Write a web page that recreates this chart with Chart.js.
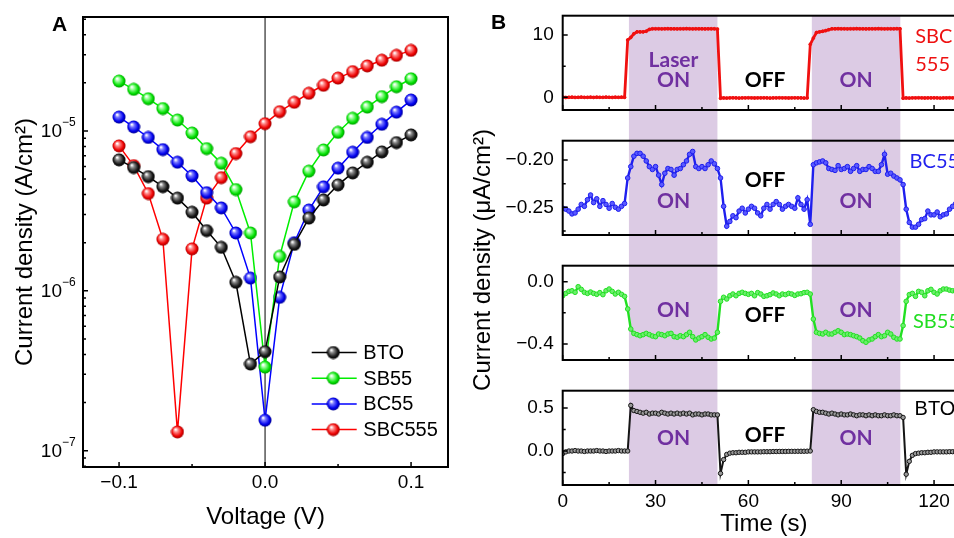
<!DOCTYPE html>
<html>
<head>
<meta charset="utf-8">
<script src="https://cdn.jsdelivr.net/npm/chart.js@4.4.1/dist/chart.umd.min.js"></script>
<style>
  html, body { margin: 0; padding: 0; background: #fff; }
  body { width: 954px; height: 538px; overflow: hidden; position: relative; font-family: 'Liberation Sans', Arial, sans-serif; }
  .box { position: absolute; }
  .tag { position: absolute; font-weight: bold; font-size: 21px; line-height: 20px; }
  #ytB { position: absolute; left: 482px; top: 260px; transform: translate(-50%, -50%) rotate(-90deg);
         white-space: nowrap; font-size: 24px; line-height: 28px; }
</style>
</head>
<body>
<div class="box" style="left:0;top:0;width:475px;height:538px"><canvas id="cA"></canvas></div>
<div class="box" style="left:480px;top:0;width:500px;height:125px"><canvas id="cB1"></canvas></div>
<div class="box" style="left:480px;top:125px;width:500px;height:125px"><canvas id="cB2"></canvas></div>
<div class="box" style="left:480px;top:250px;width:500px;height:125px"><canvas id="cB3"></canvas></div>
<div class="box" style="left:480px;top:375px;width:500px;height:165px"><canvas id="cB4"></canvas></div>
<div class="tag" style="left:52px;top:14px">A</div>
<div class="tag" style="left:491px;top:12px">B</div>
<div id="ytB">Current density (μA/cm²)</div>

<script>
// ---- Panel A: current density vs voltage (log) ----
const voltage = [-0.10,-0.09,-0.08,-0.07,-0.06,-0.05,-0.04,-0.03,-0.02,-0.01,0.00,
                 0.01,0.02,0.03,0.04,0.05,0.06,0.07,0.08,0.09,0.10];
const jBTO    = [6.59e-6,5.9e-6,5.18e-6,4.48e-6,3.8e-6,3.1e-6,2.38e-6,1.87e-6,1.13e-6,3.48e-7,4.16e-7,
                 1.22e-6,1.95e-6,2.85e-6,3.7e-6,4.6e-6,5.46e-6,6.37e-6,7.39e-6,8.45e-6,9.44e-6];
const jSB55   = [2.05e-5,1.82e-5,1.59e-5,1.38e-5,1.17e-5,9.7e-6,7.75e-6,6.28e-6,4.3e-6,2.3e-6,3.33e-7,
                 1.64e-6,3.6e-6,5.6e-6,7.6e-6,9.8e-6,1.2e-5,1.41e-5,1.64e-5,1.89e-5,2.12e-5];
const jBC55   = [1.22e-5,1.06e-5,9.1e-6,7.64e-6,6.37e-6,5.23e-6,4.11e-6,3.3e-6,2.3e-6,1.2e-6,1.55e-7,
                 9.1e-7,2.0e-6,3.2e-6,4.47e-6,5.85e-6,7.36e-6,9.1e-6,1.1e-5,1.31e-5,1.56e-5];
const jSBC555 = [8.06e-6,6.07e-6,4.06e-6,2.1e-6,1.31e-7,1.83e-6,3.8e-6,5.1e-6,7.22e-6,9.2e-6,1.11e-5,
                 1.32e-5,1.51e-5,1.72e-5,1.93e-5,2.14e-5,2.35e-5,2.55e-5,2.77e-5,2.97e-5,3.19e-5];
const xTicksA = [-0.1, 0, 0.1];
const xTickLabelsA = ['−0.1', '0.0', '0.1'];
const xMinorA = [-0.05, 0.05];
const yTicksA = [1e-7, 1e-6, 1e-5];
const yTickExpA = ['−7', '−6', '−5'];
const yMinorA = [8e-8,9e-8,2e-7,3e-7,4e-7,5e-7,6e-7,7e-7,8e-7,9e-7,
                 2e-6,3e-6,4e-6,5e-6,6e-6,7e-6,8e-6,9e-6,2e-5,3e-5,4e-5,5e-5];

// ---- Panel B: photocurrent vs time ----
const timeS = [
  0,1,2,3,4,5,6,7,8,9, 10,11,12,13,14,15,16,17,18,19,
  20,21,22,23,24,25,26,27,28,29, 30,31,32,33,34,35,36,37,38,39,
  40,41,42,43,44,45,46,47,48,49, 50,51,52,53,54,55,56,57,58,59,
  60,61,62,63,64,65,66,67,68,69, 70,71,72,73,74,75,76,77,78,79,
  80,81,82,83,84,85,86,87,88,89, 90,91,92,93,94,95,96,97,98,99,
  100,101,102,103,104,105,106,107,108,109, 110,111,112,113,114,115,116,117,118,119,
  120,121,122,123,124,125,126,127,128,129, 130];
const laserOn = [[21.4, 50.0], [80.5, 109.1]];
const tSBC555 = [
  0.02,-0.03,0.00,0.01,-0.02,0.00,0.03,-0.01,0.00,0.02,
  -0.02,0.01,0.00,-0.01,0.02,0.00,-0.02,0.01,0.00,0.02,
  0.00,9.2,9.6,10.2,10.5,10.5,10.5,10.6,10.9,11.0,
  11.0,11.0,10.98,11.0,11.02,11.0,11.0,10.98,11.0,11.0,
  11.02,11.0,10.98,11.0,11.0,11.0,10.98,11.0,11.0,11.0,
  10.95,-0.15,-0.10,-0.12,-0.10,-0.08,-0.10,-0.12,-0.10,-0.10,
  -0.08,-0.10,-0.11,-0.10,-0.10,-0.09,-0.10,-0.12,-0.10,-0.10,
  -0.08,-0.10,-0.10,-0.11,-0.10,-0.09,-0.10,-0.10,-0.12,-0.10,
  8.5,9.5,10.4,10.5,10.6,10.7,10.85,11.0,11.0,11.02,
  11.0,11.0,10.98,11.0,11.0,11.02,11.0,11.0,10.98,11.0,
  11.0,11.0,11.02,11.0,10.98,11.0,11.0,11.0,11.02,11.0,
  -0.15,-0.10,-0.12,-0.10,-0.10,-0.08,-0.10,-0.11,-0.10,-0.10,
  -0.09,-0.10,-0.12,-0.10,-0.10,-0.08,-0.10,-0.10,-0.11,-0.10,
  -0.10];
const tBC55 = [
  -0.251,-0.252,-0.254,-0.257,-0.256,-0.252,-0.247,-0.249,-0.242,-0.237,
  -0.245,-0.241,-0.249,-0.243,-0.247,-0.251,-0.246,-0.250,-0.252,-0.249,
  -0.246,-0.219,-0.207,-0.196,-0.193,-0.193,-0.196,-0.201,-0.207,-0.210,
  -0.207,-0.216,-0.226,-0.214,-0.209,-0.210,-0.216,-0.210,-0.209,-0.205,
  -0.201,-0.194,-0.191,-0.207,-0.209,-0.207,-0.209,-0.205,-0.201,-0.204,
  -0.209,-0.219,-0.249,-0.270,-0.265,-0.259,-0.261,-0.254,-0.251,-0.256,
  -0.252,-0.249,-0.251,-0.256,-0.259,-0.251,-0.247,-0.252,-0.247,-0.244,
  -0.247,-0.252,-0.249,-0.247,-0.249,-0.251,-0.240,-0.247,-0.252,-0.242,
  -0.268,-0.205,-0.203,-0.202,-0.201,-0.203,-0.209,-0.210,-0.211,-0.206,
  -0.210,-0.209,-0.207,-0.212,-0.209,-0.206,-0.212,-0.210,-0.210,-0.207,
  -0.209,-0.212,-0.212,-0.205,-0.194,-0.215,-0.214,-0.217,-0.219,-0.221,
  -0.226,-0.252,-0.266,-0.271,-0.271,-0.268,-0.263,-0.262,-0.254,-0.258,
  -0.258,-0.255,-0.260,-0.258,-0.257,-0.252,-0.249,-0.246,-0.250,-0.248,
  -0.251];
const tSB55 = [
  -0.090,-0.075,-0.062,-0.058,-0.068,-0.032,-0.049,-0.068,-0.075,-0.066,
  -0.075,-0.081,-0.070,-0.083,-0.058,-0.047,-0.062,-0.079,-0.068,-0.081,
  -0.094,-0.175,-0.304,-0.332,-0.340,-0.347,-0.340,-0.332,-0.340,-0.349,
  -0.353,-0.336,-0.340,-0.347,-0.336,-0.332,-0.353,-0.357,-0.347,-0.353,
  -0.340,-0.325,-0.353,-0.374,-0.362,-0.353,-0.340,-0.357,-0.368,-0.362,
  -0.325,-0.126,-0.100,-0.111,-0.090,-0.079,-0.090,-0.075,-0.068,-0.075,
  -0.081,-0.075,-0.090,-0.070,-0.079,-0.094,-0.090,-0.083,-0.072,-0.079,
  -0.090,-0.079,-0.083,-0.075,-0.079,-0.088,-0.079,-0.077,-0.070,-0.068,
  -0.079,-0.240,-0.325,-0.332,-0.336,-0.325,-0.336,-0.336,-0.325,-0.315,
  -0.325,-0.340,-0.336,-0.340,-0.347,-0.353,-0.362,-0.379,-0.389,-0.374,
  -0.368,-0.353,-0.340,-0.353,-0.347,-0.325,-0.336,-0.357,-0.368,-0.368,
  -0.282,-0.126,-0.083,-0.075,-0.094,-0.062,-0.068,-0.090,-0.058,-0.049,
  -0.068,-0.079,-0.058,-0.047,-0.047,-0.054,-0.058,-0.060,-0.055,-0.060,
  -0.058];
const tBTO = [
  -0.03,-0.01,0.00,0.00,0.005,0.00,0.00,-0.005,0.00,0.00,
  0.00,0.005,0.00,0.00,-0.005,0.00,0.00,0.00,0.005,0.00,
  0.00,0.00,0.53,0.47,0.46,0.45,0.44,0.45,0.43,0.44,
  0.44,0.43,0.45,0.44,0.43,0.44,0.43,0.44,0.43,0.44,
  0.43,0.44,0.42,0.43,0.43,0.42,0.43,0.43,0.42,0.42,
  0.42,-0.26,-0.10,-0.04,-0.025,-0.02,-0.02,-0.015,-0.015,-0.015,
  -0.01,-0.01,-0.01,-0.01,-0.01,-0.008,-0.008,-0.008,-0.006,-0.006,
  -0.005,-0.005,-0.005,-0.004,-0.004,-0.004,-0.003,-0.003,-0.003,-0.002,
  0.00,0.48,0.46,0.45,0.45,0.44,0.43,0.44,0.43,0.42,
  0.43,0.42,0.42,0.43,0.42,0.41,0.42,0.42,0.41,0.42,
  0.41,0.42,0.41,0.41,0.42,0.41,0.41,0.42,0.41,0.41,
  0.39,-0.27,-0.12,-0.05,-0.03,-0.025,-0.02,-0.02,-0.015,-0.015,
  -0.01,-0.01,-0.01,-0.01,-0.01,-0.008,-0.008,-0.008,-0.006,-0.006,
  -0.005];
const xTicksB = [0, 30, 60, 90, 120];
const xTickLabelsB = ['0', '30', '60', '90', '120'];
const xMinorB = [15, 45, 75, 105];

const FONT = "'Liberation Sans', Arial, sans-serif";
const CAL = "Lato, 'Open Sans', sans-serif";
const PURPLE = '#7030a0';
Chart.defaults.font.family = FONT;
Chart.defaults.color = '#000';

// shaded 3D ball used as marker in panel A
function ball(col, hi, dark) {
  const c = document.createElement('canvas');
  c.width = c.height = 14;
  const g = c.getContext('2d');
  const grad = g.createRadialGradient(5, 4.5, 0.5, 7, 7, 7);
  grad.addColorStop(0, '#ffffff');
  grad.addColorStop(0.25, hi);
  grad.addColorStop(0.7, col);
  grad.addColorStop(1, dark);
  g.fillStyle = grad;
  g.beginPath();
  g.arc(7, 7, 6.5, 0, Math.PI * 2);
  g.fill();
  return c;
}

// frame, inward ticks, tick labels, text notes, shading
function deco(cfg) {
  return {
    id: 'deco',
    beforeDraw(chart) {
      const {ctx, chartArea: a} = chart;
      const sx = chart.scales.x;
      ctx.save();
      if (cfg.shade) {
        const top = cfg.shadeFromTop ? 0 : a.top;
        const bot = cfg.shadeToBottom ? chart.height : a.bottom;
        ctx.fillStyle = '#dccbe4';
        cfg.shade.forEach(([t0, t1]) => {
          const x0 = sx.getPixelForValue(t0), x1 = sx.getPixelForValue(t1);
          ctx.fillRect(x0, top, x1 - x0, bot - top);
        });
      }
      if (cfg.zeroLine) {
        const p = sx.getPixelForValue(0);
        ctx.strokeStyle = '#000';
        ctx.lineWidth = 1;
        ctx.beginPath();
        ctx.moveTo(p, a.top);
        ctx.lineTo(p, a.bottom);
        ctx.stroke();
      }
      ctx.restore();
    },
    afterDraw(chart) {
      const {ctx, chartArea: a} = chart;
      const sx = chart.scales.x, sy = chart.scales.y;
      ctx.save();
      ctx.strokeStyle = '#000';
      ctx.lineWidth = 1.5;
      ctx.beginPath();
      cfg.xMajor.forEach(v => { const p = sx.getPixelForValue(v); ctx.moveTo(p, a.bottom); ctx.lineTo(p, a.bottom - 5); });
      cfg.xMinor.forEach(v => { const p = sx.getPixelForValue(v); ctx.moveTo(p, a.bottom); ctx.lineTo(p, a.bottom - 3); });
      cfg.yMajor.forEach(v => { const p = sy.getPixelForValue(v); ctx.moveTo(a.left, p); ctx.lineTo(a.left + 5, p); });
      cfg.yMinor.forEach(v => { const p = sy.getPixelForValue(v); ctx.moveTo(a.left, p); ctx.lineTo(a.left + 3, p); });
      ctx.stroke();
      ctx.lineWidth = 2;
      ctx.strokeRect(a.left, a.top, a.right - a.left, a.bottom - a.top);

      ctx.fillStyle = '#000';
      ctx.textBaseline = 'middle';
      ctx.font = '19px ' + FONT;
      if (cfg.xLabels) {
        ctx.textAlign = 'center';
        cfg.xMajor.forEach((v, i) => ctx.fillText(cfg.xLabels[i], sx.getPixelForValue(v), a.bottom + cfg.xLabelGap));
      }
      if (cfg.yExp) {
        cfg.yMajor.forEach((v, i) => {
          const p = sy.getPixelForValue(v);
          ctx.font = '19px ' + FONT; ctx.textAlign = 'right';
          ctx.fillText('10', a.left - 21, p + 1);
          ctx.font = '12px ' + FONT; ctx.textAlign = 'left';
          ctx.fillText(cfg.yExp[i], a.left - 21, p - 8);
        });
      } else if (cfg.yLabels) {
        ctx.textAlign = 'right';
        cfg.yMajor.forEach((v, i) => ctx.fillText(cfg.yLabels[i], a.left - 9, sy.getPixelForValue(v)));
      }
      (cfg.notes || []).forEach(n => {
        ctx.font = n.font;
        ctx.fillStyle = n.color;
        ctx.textAlign = n.align || 'center';
        ctx.fillText(n.text, sx.getPixelForValue(n.x), sy.getPixelForValue(n.y));
      });
      if (cfg.legend) {
        chart.data.datasets.forEach((ds, i) => {
          const yy = a.bottom - 114.5 + i * 25.7;
          const x0 = a.right - 136.3;
          ctx.strokeStyle = ds.borderColor;
          ctx.lineWidth = 1.5;
          ctx.beginPath(); ctx.moveTo(x0, yy); ctx.lineTo(x0 + 45, yy); ctx.stroke();
          ctx.drawImage(ds.pointStyle, x0 + 21.6 - 7, yy - 7);
          ctx.fillStyle = '#000';
          ctx.font = '20px ' + FONT;
          ctx.textAlign = 'left';
          ctx.fillText(ds.label, x0 + 51.6, yy + 1);
        });
      }
      ctx.restore();
    }
  };
}

// Panel A chart
const ivDs = (label, vals, color, img) => ({
  label: label,
  data: voltage.map((v, i) => ({x: v, y: vals[i]})),
  borderColor: color,
  borderWidth: 1.5,
  pointStyle: img,
  pointRadius: 7,
  tension: 0
});

new Chart(document.getElementById('cA'), {
  type: 'line',
  data: {
    datasets: [
      ivDs('BTO', jBTO, '#000000', ball('#151515', '#8a8a8a', '#000000')),
      ivDs('SB55', jSB55, '#00ee00', ball('#00e000', '#9dff9d', '#008a00')),
      ivDs('BC55', jBC55, '#0000ff', ball('#0000ee', '#7a7aff', '#00007a')),
      ivDs('SBC555', jSBC555, '#ff0000', ball('#ee0000', '#ff8a8a', '#8a0000'))
    ]
  },
  options: {
    responsive: true,
    maintainAspectRatio: false,
    animation: false,
    layout: {padding: {left: 0, top: 17, right: 27, bottom: 0}},
    plugins: {legend: {display: false}, tooltip: {enabled: false}},
    scales: {
      x: {
        type: 'linear', min: -0.1247, max: 0.1253,
        ticks: {display: false}, grid: {display: false}, border: {display: false},
        title: {display: true, text: 'Voltage (V)', color: '#000', font: {size: 24, family: FONT}, padding: {top: 0, bottom: 6}},
        afterFit(s) { s.height = 71; }
      },
      y: {
        type: 'logarithmic', min: 7.9e-8, max: 5.16e-5,
        ticks: {display: false}, grid: {display: false}, border: {display: false},
        title: {display: true, text: 'Current density (A/cm²)', color: '#000', font: {size: 24, family: FONT}, padding: {top: 11, bottom: 0}},
        afterFit(s) { s.width = 83; }
      }
    }
  },
  plugins: [deco({
    zeroLine: true, legend: true,
    xMajor: xTicksA, xMinor: xMinorA, xLabels: xTickLabelsA, xLabelGap: 16,
    yMajor: yTicksA, yMinor: yMinorA, yExp: yTickExpA
  })]
});

// Panel B strip charts
function strip(id, vals, st, yMin, yMax, cfg, bottom) {
  cfg.xMajor = xTicksB;
  cfg.xMinor = xMinorB;
  cfg.shade = laserOn;
  return new Chart(document.getElementById(id), {
    type: 'line',
    data: {
      datasets: [{
        data: timeS.map((t, i) => ({x: t, y: vals[i]})),
        borderColor: st.color,
        borderWidth: st.lw,
        pointRadius: st.pr,
        pointBackgroundColor: st.fill,
        pointBorderColor: st.color,
        pointBorderWidth: 1,
        tension: 0
      }]
    },
    options: {
      responsive: true,
      maintainAspectRatio: false,
      animation: false,
      layout: {padding: {left: 0, top: 15.7, right: 15, bottom: bottom ? 1 : 0}},
      plugins: {legend: {display: false}, tooltip: {enabled: false}},
      scales: {
        x: {
          type: 'linear', min: 0, max: 130,
          ticks: {display: false}, grid: {display: false}, border: {display: false},
          title: {display: bottom, text: 'Time (s)', color: '#000', font: {size: 24, family: FONT}, padding: 0},
          afterFit(s) { s.height = bottom ? 54 : 15; }
        },
        y: {
          type: 'linear', min: yMin, max: yMax,
          ticks: {display: false}, grid: {display: false}, border: {display: false},
          afterFit(s) { s.width = 82.7; }
        }
      }
    },
    plugins: [deco(cfg)]
  });
}

const onFont = 'bold 21px ' + CAL;
const tagFont = '20px ' + CAL;

strip('cB1', tSBC555, {color: '#f01010', fill: '#f01010', lw: 2.8, pr: 1.4}, -2.04, 13.1, {
  shadeFromTop: false, shadeToBottom: true,
  yMajor: [0, 10], yMinor: [5], yLabels: ['0', '10'],
  notes: [
    {x: 35.8, y: 6.0, text: 'Laser', color: PURPLE, font: onFont},
    {x: 35.8, y: 2.75, text: 'ON', color: PURPLE, font: onFont},
    {x: 65.4, y: 2.75, text: 'OFF', color: '#000', font: onFont},
    {x: 94.8, y: 2.75, text: 'ON', color: PURPLE, font: onFont},
    {x: 113.9, y: 9.68, text: 'SBC', color: '#ee1111', font: tagFont, align: 'left'},
    {x: 113.9, y: 5.18, text: '555', color: '#ee1111', font: tagFont, align: 'left'}
  ]
}, false);

strip('cB2', tBC55, {color: '#1f1fee', fill: '#5a5aff', lw: 2.4, pr: 2.3}, -0.2793, -0.1796, {
  shadeFromTop: true, shadeToBottom: true,
  yMajor: [-0.25, -0.20], yMinor: [-0.275, -0.225], yLabels: ['−0.25', '−0.20'],
  notes: [
    {x: 65.4, y: -0.2211, text: 'OFF', color: '#000', font: onFont},
    {x: 35.8, y: -0.2441, text: 'ON', color: PURPLE, font: onFont},
    {x: 94.8, y: -0.2441, text: 'ON', color: PURPLE, font: onFont},
    {x: 112.1, y: -0.2018, text: 'BC55', color: '#2222ee', font: tagFont, align: 'left'}
  ]
}, false);

strip('cB3', tSB55, {color: '#22e022', fill: '#6cee6c', lw: 2.4, pr: 2.3}, -0.503, 0.103, {
  shadeFromTop: true, shadeToBottom: true,
  yMajor: [-0.4, 0.0], yMinor: [-0.2], yLabels: ['−0.4', '0.0'],
  notes: [
    {x: 35.8, y: -0.1816, text: 'ON', color: PURPLE, font: onFont},
    {x: 65.4, y: -0.218, text: 'OFF', color: '#000', font: onFont},
    {x: 94.8, y: -0.1816, text: 'ON', color: PURPLE, font: onFont},
    {x: 113.2, y: -0.2567, text: 'SB55', color: '#22dd22', font: tagFont, align: 'left'}
  ]
}, false);

strip('cB4', tBTO, {color: '#151515', fill: '#9a9a9a', lw: 2.0, pr: 2.2}, -0.395, 0.701, {
  shadeFromTop: true, shadeToBottom: false,
  yMajor: [0.0, 0.5], yMinor: [-0.25, 0.25], yLabels: ['0.0', '0.5'],
  xLabels: xTickLabelsB, xLabelGap: 16.7,
  notes: [
    {x: 35.8, y: 0.148, text: 'ON', color: PURPLE, font: onFont},
    {x: 65.4, y: 0.178, text: 'OFF', color: '#000', font: onFont},
    {x: 94.8, y: 0.148, text: 'ON', color: PURPLE, font: onFont},
    {x: 113.7, y: 0.477, text: 'BTO', color: '#000', font: '20px ' + FONT, align: 'left'}
  ]
}, true);
</script>
</body>
</html>
